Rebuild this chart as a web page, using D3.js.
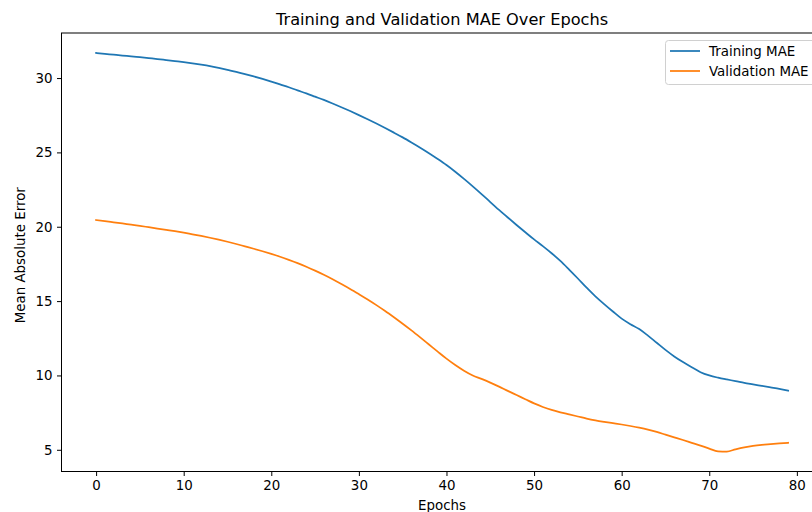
<!DOCTYPE html>
<html>
<head>
<meta charset="utf-8">
<script src="https://cdn.jsdelivr.net/npm/d3@7"></script>
<style>
  body { margin: 0; background: #fff; }
  svg { display: block; font-family: "DejaVu Sans", sans-serif; }
</style>
</head>
<body>
<svg id="chart" width="812" height="512"></svg>
<script>
const epochs = d3.range(0, 80);
const trainingMAE = [
  31.69, 31.63, 31.57, 31.51, 31.46, 31.40, 31.34, 31.28, 31.21, 31.14,
  31.07, 30.99, 30.90, 30.80, 30.68, 30.55, 30.42, 30.27, 30.11, 29.94,
  29.76, 29.57, 29.38, 29.17, 28.97, 28.75, 28.53, 28.29, 28.04, 27.78,
  27.51, 27.23, 26.94, 26.64, 26.33, 26.01, 25.67, 25.32, 24.95, 24.56,
  24.15, 23.70, 23.22, 22.72, 22.20, 21.66, 21.13, 20.62, 20.12, 19.63,
  19.15, 18.70, 18.22, 17.70, 17.12, 16.52, 15.90, 15.32, 14.80, 14.30,
  13.82, 13.45, 13.12, 12.68, 12.20, 11.72, 11.28, 10.90, 10.55, 10.22,
  10.00, 9.85, 9.73, 9.62, 9.50, 9.40, 9.30, 9.20, 9.10, 8.98
];
const validationMAE = [
  20.45, 20.38, 20.30, 20.22, 20.14, 20.06, 19.97, 19.88, 19.79, 19.70,
  19.60, 19.49, 19.38, 19.26, 19.13, 18.99, 18.84, 18.68, 18.52, 18.35,
  18.17, 17.98, 17.77, 17.55, 17.31, 17.05, 16.77, 16.47, 16.15, 15.82,
  15.47, 15.11, 14.73, 14.33, 13.91, 13.48, 13.03, 12.56, 12.08, 11.60,
  11.13, 10.70, 10.32, 10.00, 9.77, 9.52, 9.25, 8.96, 8.68, 8.40,
  8.12, 7.88, 7.68, 7.52, 7.38, 7.24, 7.10, 6.98, 6.88, 6.79,
  6.70, 6.60, 6.49, 6.36, 6.20, 6.02, 5.84, 5.66, 5.47, 5.28,
  5.08, 4.90, 4.88, 5.03, 5.16, 5.26, 5.33, 5.38, 5.43, 5.47
];
const xTicks = [0, 10, 20, 30, 40, 50, 60, 70, 80];
const yTicks = [5, 10, 15, 20, 25, 30];
const seriesNames = ["Training MAE", "Validation MAE"];
const seriesColors = ["#1f77b4", "#ff7f0e"];

const svg = d3.select("#chart");
const pLeft = 61.5, pRight = 822.7, pTop = 33, pBottom = 471.5;
const fs = 13.4, titleFs = 16.2;

const allVals = trainingMAE.concat(validationMAE);
const yMin = d3.min(allVals), yMax = d3.max(allVals);
const yPad = (yMax - yMin) * 0.05;
const xPad = (epochs[epochs.length - 1] - epochs[0]) * 0.05;

const x = d3.scaleLinear().domain([epochs[0] - xPad, epochs[epochs.length - 1] + xPad]).range([pLeft, pRight]);
const y = d3.scaleLinear().domain([yMin - yPad, yMax + yPad]).range([pBottom, pTop]);

const series = [trainingMAE, validationMAE];
const line = d3.line().curve(d3.curveMonotoneX).x((d, i) => x(epochs[i])).y(d => y(d));

svg.append("defs").append("clipPath").attr("id", "clip")
  .append("rect").attr("x", pLeft).attr("y", pTop).attr("width", pRight - pLeft).attr("height", pBottom - pTop);

const plot = svg.append("g").attr("clip-path", "url(#clip)");
series.forEach((s, k) => {
  plot.append("path").datum(s)
    .attr("d", line)
    .attr("fill", "none")
    .attr("stroke", seriesColors[k])
    .attr("stroke-width", 1.75)
    .attr("stroke-linejoin", "round")
    .attr("stroke-linecap", "square");
});

// axes
const xAxis = svg.append("g").attr("transform", `translate(0,${pBottom})`)
  .call(d3.axisBottom(x).tickValues(xTicks).tickSize(4.5).tickPadding(4.5).tickFormat(d3.format("d")));
const yAxis = svg.append("g").attr("transform", `translate(${pLeft},0)`)
  .call(d3.axisLeft(y).tickValues(yTicks).tickSize(4.5).tickPadding(4.5).tickFormat(d3.format("d")));
[xAxis, yAxis].forEach(a => {
  a.selectAll("text").attr("font-size", fs).attr("font-family", "DejaVu Sans, sans-serif").attr("fill", "#000");
  a.selectAll("line").attr("stroke", "#000").attr("stroke-width", 1);
  a.select(".domain").remove();
});

// spines
svg.append("rect").attr("x", pLeft).attr("y", pTop).attr("width", pRight - pLeft).attr("height", pBottom - pTop)
  .attr("fill", "none").attr("stroke", "#000").attr("stroke-width", 1);

// title and labels
const cx = (pLeft + pRight) / 2;
svg.append("text").attr("x", cx).attr("y", 25).attr("text-anchor", "middle")
  .attr("font-size", titleFs).attr("fill", "#000").text("Training and Validation MAE Over Epochs");
svg.append("text").attr("x", cx).attr("y", 509.5).attr("text-anchor", "middle")
  .attr("font-size", fs).attr("fill", "#000").text("Epochs");
svg.append("text").attr("transform", `translate(24.5,${(pTop + pBottom) / 2 + 3}) rotate(-90)`)
  .attr("text-anchor", "middle").attr("font-size", fs).attr("fill", "#000").text("Mean Absolute Error");

// legend
const lg = svg.append("g");
lg.append("rect").attr("x", 665.5).attr("y", 40.5).attr("width", 152).attr("height", 44).attr("rx", 3)
  .attr("fill", "#fff").attr("fill-opacity", 0.8).attr("stroke", "#d0d0d0").attr("stroke-width", 1);
seriesNames.forEach((name, k) => {
  const yy = 51 + k * 20;
  lg.append("line").attr("x1", 670).attr("x2", 700).attr("y1", yy).attr("y2", yy)
    .attr("stroke", seriesColors[k]).attr("stroke-width", 1.75);
  lg.append("text").attr("x", 709).attr("y", yy + 4.8).attr("font-size", fs).attr("fill", "#000").text(name);
});
</script>
</body>
</html>
